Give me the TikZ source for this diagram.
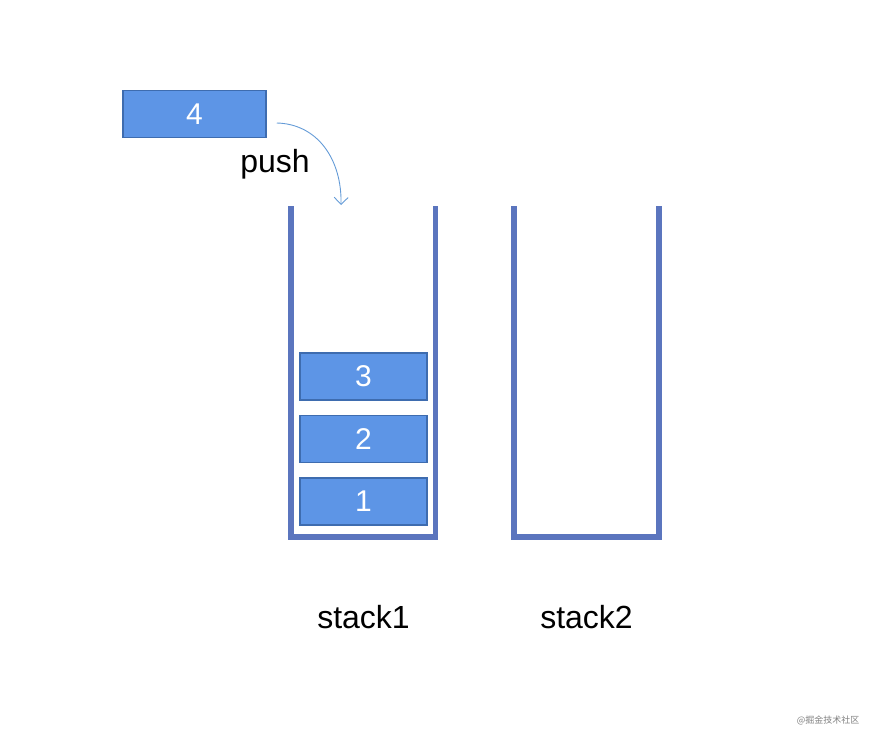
\documentclass[tikz,border=0pt]{standalone}
\usepackage{fontspec}
\setmainfont{Liberation Sans}
\newfontfamily\cjkfont{Noto Sans CJK SC}
\usetikzlibrary{arrows.meta}
\definecolor{boxfill}{RGB}{93,149,230}
\definecolor{boxline}{RGB}{62,108,175}
\definecolor{stackline}{RGB}{91,117,190}
\definecolor{arrowline}{RGB}{100,155,215}
\tikzset{x=1pt, y=-1pt, % work in pixels, y pointing down
      elem/.style={ % Sets the properties for each stack element
      draw=boxline, line width=1.5pt,
      fill=boxfill, text=white,
      minimum width=127pt, minimum height=47pt, inner sep=0pt,
      font=\fontsize{30}{30}\selectfont},
      stackwall/.style={ % Sets the properties for the stack outline
      draw=stackline, line width=5.5pt, miter limit=2},
      label/.style={font=\fontsize{32}{32}\selectfont},
      pusharrow/.style={ % Thin bent arrow with an open tip
      draw=arrowline, line width=0.9pt,
      -{Straight Barb[length=7pt,width=14pt,line width=0.9pt]}}}

\begin{document}
\begin{tikzpicture}
      \useasboundingbox (0,0) rectangle (874,741);
      % the two stacks
      \draw[stackwall] (291,206) -- (291,537) -- (435.5,537) -- (435.5,206);
      \draw[stackwall] (514,206) -- (514,537) -- (659,537) -- (659,206);
      \node[label] (stack1) at (363.5,617) {stack1};
      \node[label] (stack2) at (586.5,617) {stack2};
      % elements already in stack1
      \foreach \v in {1,2,3}
            \node[elem] (e\v) at (363.5,564-62.5*\v) {\v};
      % element being pushed
      \node[elem, minimum width=143pt] (e4) at (194.5,114) {4};
      \coordinate (drop) at (341,205);
      \draw[pusharrow] ([xshift=10pt,yshift=-9pt]e4.east) .. controls (318,124) and (342,160) .. (drop);
      \node[label] (push) at (275,164) {push};
      \node[text=gray, font=\cjkfont\fontsize{9}{9}\selectfont] (mark) at (828,720) {@掘金技术社区};
\end{tikzpicture}
\end{document}
